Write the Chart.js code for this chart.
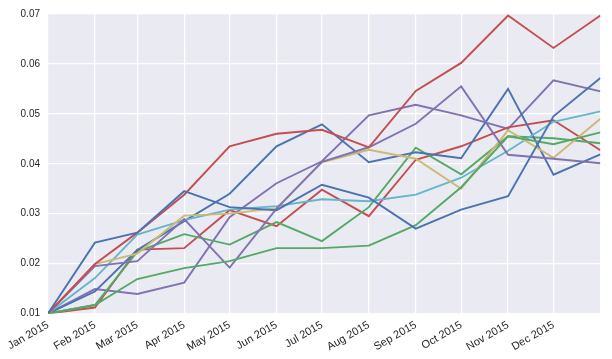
<!DOCTYPE html>
<html>
<head>
<meta charset="utf-8">
<script src="https://cdn.jsdelivr.net/npm/chart.js@4/dist/chart.umd.min.js"></script>
<style>
  html, body { margin: 0; padding: 0; background: #fff; }
  #wrap { width: 612px; height: 359px; }
</style>
</head>
<body>
<div id="wrap"><canvas id="chart" width="612" height="359"></canvas></div>
<script>
// days since Jan 1 2015 for the first of each month (plus Jan 2016)
const monthDays = [0, 31, 59, 90, 120, 151, 181, 212, 243, 273, 304, 334, 365];
const monthLabels = ['Jan 2015', 'Feb 2015', 'Mar 2015', 'Apr 2015', 'May 2015', 'Jun 2015',
  'Jul 2015', 'Aug 2015', 'Sep 2015', 'Oct 2015', 'Nov 2015', 'Dec 2015', ''];
const yTicks = [0.01, 0.02, 0.03, 0.04, 0.05, 0.06, 0.07];

const blueA   = [0.01, 0.0242, 0.0262, 0.0345, 0.0313, 0.0307, 0.0358, 0.0332, 0.0270, 0.0308, 0.0335, 0.0495, 0.0572];
const greenA  = [0.01, 0.0117, 0.0169, 0.0191, 0.0205, 0.0231, 0.0231, 0.0236, 0.0277, 0.0353, 0.0455, 0.0439, 0.0463];
const redA    = [0.01, 0.0199, 0.0262, 0.0338, 0.0435, 0.0460, 0.0468, 0.0433, 0.0546, 0.0602, 0.0697, 0.0632, 0.0697];
const purpleA = [0.01, 0.0195, 0.0205, 0.0289, 0.0192, 0.0310, 0.0404, 0.0433, 0.0480, 0.0555, 0.0418, 0.0410, 0.0401];
const yellow  = [0.01, 0.0199, 0.0220, 0.0296, 0.0300, 0.0311, 0.0403, 0.0428, 0.0410, 0.0350, 0.0467, 0.0412, 0.0490];
const cyan    = [0.01, 0.0171, 0.0258, 0.0287, 0.0308, 0.0315, 0.0329, 0.0325, 0.0338, 0.0372, 0.0426, 0.0484, 0.0505];
const blueB   = [0.01, 0.0144, 0.0227, 0.0285, 0.0340, 0.0435, 0.0479, 0.0403, 0.0423, 0.0411, 0.0550, 0.0378, 0.0419];
const greenB  = [0.01, 0.0117, 0.0224, 0.0259, 0.0238, 0.0283, 0.0245, 0.0313, 0.0432, 0.0379, 0.0455, 0.0451, 0.0441];
const redB    = [0.01, 0.0112, 0.0228, 0.0231, 0.0307, 0.0275, 0.0348, 0.0295, 0.0408, 0.0435, 0.0473, 0.0487, 0.0427];
const purpleB = [0.01, 0.0149, 0.0139, 0.0162, 0.0293, 0.0361, 0.0405, 0.0497, 0.0518, 0.0497, 0.0470, 0.0567, 0.0545];

const series = [blueA, greenA, redA, purpleA, yellow, cyan, blueB, greenB, redB, purpleB];
const palette = ['#4C72B0', '#55A868', '#C44E52', '#8172B2', '#CCB974', '#64B5CD'];

const datasets = series.map((vals, i) => ({
  data: vals.map((v, j) => ({ x: monthDays[j], y: v })),
  borderColor: palette[i % palette.length],
  borderWidth: 1.9,
  pointRadius: 0,
  tension: 0,
  fill: false,
}));

// seaborn-like grey plot background
const plotBg = {
  id: 'plotBg',
  beforeDraw(chart) {
    const { ctx, chartArea: a } = chart;
    ctx.save();
    ctx.fillStyle = '#EAEAF2';
    ctx.fillRect(a.left, a.top, a.right - a.left, a.bottom - a.top);
    ctx.restore();
  },
};

const yFont = { family: '"Liberation Sans", Arial, sans-serif', size: 10 };
const xFont = { family: '"Liberation Sans", Arial, sans-serif', size: 11 };

new Chart(document.getElementById('chart'), {
  type: 'line',
  data: { datasets },
  plugins: [plotBg],
  options: {
    responsive: false,
    animation: false,
    layout: { padding: { top: 12, right: 6, left: 0, bottom: 0 } },
    plugins: { legend: { display: false }, tooltip: { enabled: false } },
    scales: {
      x: {
        type: 'linear',
        min: 0,
        max: 365,
        afterBuildTicks: (scale) => { scale.ticks = monthDays.map((d) => ({ value: d })); },
        afterFit: (scale) => { scale.height = 45.5; },
        ticks: {
          autoSkip: false,
          minRotation: 30,
          maxRotation: 30,
          padding: 5,
          color: '#262626',
          font: xFont,
          callback: (v) => monthLabels[monthDays.indexOf(v)],
        },
        grid: { color: '#ffffff', lineWidth: 1.2, drawTicks: false },
        border: { display: false },
      },
      y: {
        min: 0.01,
        max: 0.07,
        afterBuildTicks: (scale) => { scale.ticks = yTicks.map((v) => ({ value: v })); },
        afterFit: (scale) => { scale.width = 48; },
        ticks: {
          padding: 8,
          color: '#262626',
          font: yFont,
          callback: (v) => v.toFixed(2),
        },
        grid: { color: '#ffffff', lineWidth: 1.2, drawTicks: false },
        border: { display: false },
      },
    },
  },
});
</script>
</body>
</html>
